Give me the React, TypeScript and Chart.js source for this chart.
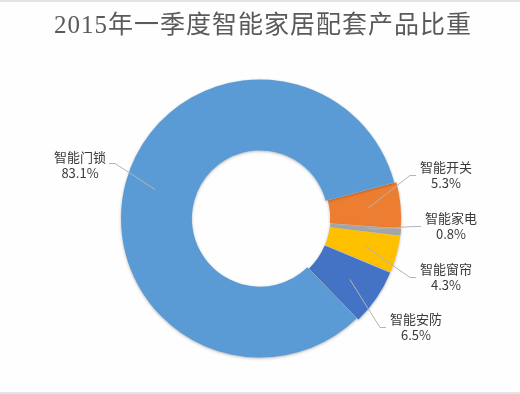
import React, { useEffect, useRef } from "react";
import { Chart, registerables } from "chart.js";

Chart.register(...registerables);

const TITLE = "2015年一季度智能家居配套产品比重";
const CATEGORIES = ["智能开关", "智能家电", "智能窗帘", "智能安防", "智能门锁"];
const VALUES = [5.3, 0.8, 4.3, 6.5, 83.1];
const PERCENT_LABELS = ["5.3%", "0.8%", "4.3%", "6.5%", "83.1%"];
const COLORS = ["#ED7D31", "#A5A5A5", "#FFC000", "#4472C4", "#5B9BD5"];
const SLICE_OFFSETS = [5, 5, 5, 5, 0];
// label block centres relative to the doughnut centre (layout only)
const LABEL_POS: [number, number][] = [
  [186, -43],
  [191, 8],
  [186, 59],
  [156, 109],
  [-180, -53],
];

const LABEL_FONT = '13px "Noto Sans CJK SC", "Noto Sans", sans-serif';

const backgroundPlugin = {
  id: "bgPlugin",
  beforeDraw(chart: any) {
    const { ctx, width, height } = chart;
    ctx.save();
    ctx.fillStyle = "#fefefe";
    ctx.fillRect(0, 0, width, height);
    ctx.fillStyle = "#dfe5e8";
    ctx.fillRect(0, 0, width, 2);
    ctx.fillRect(0, height - 2, width, 2);
    // title
    ctx.fillStyle = "#5a5a5a";
    ctx.font = '25px "Liberation Serif", "Noto Sans CJK SC", serif';
    try {
      (ctx as any).letterSpacing = "1px";
    } catch (e) {}
    ctx.textAlign = "center";
    ctx.textBaseline = "middle";
    ctx.fillText(TITLE, 263, 26);
    try {
      (ctx as any).letterSpacing = "0px";
    } catch (e) {}
    ctx.restore();
  },
};

const shadowPlugin = {
  id: "shadowPlugin",
  beforeDatasetDraw(chart: any) {
    const ctx = chart.ctx;
    ctx.save();
    ctx.shadowColor = "rgba(0,0,0,0.28)";
    ctx.shadowBlur = 3;
    ctx.shadowOffsetX = 0;
    ctx.shadowOffsetY = 1;
  },
  afterDatasetDraw(chart: any) {
    chart.ctx.restore();
  },
};

const labelPlugin = {
  id: "labelPlugin",
  afterDatasetsDraw(chart: any) {
    const ctx = chart.ctx;
    const meta = chart.getDatasetMeta(0);
    ctx.save();
    ctx.font = LABEL_FONT;
    meta.data.forEach((arc: any, i: number) => {
      const { x, y, startAngle, endAngle, innerRadius, outerRadius } = arc.getProps(
        ["x", "y", "startAngle", "endAngle", "innerRadius", "outerRadius"],
        true
      );
      const mid = (startAngle + endAngle) / 2;
      const r = (innerRadius + outerRadius) / 2 + 5;
      const ax = x + Math.cos(mid) * r;
      const ay = y + Math.sin(mid) * r;
      const [dx, dy] = LABEL_POS[i];
      const lx = x + dx;
      const ly = y + dy;
      const w = Math.max(
        ctx.measureText(CATEGORIES[i]).width,
        ctx.measureText(PERCENT_LABELS[i]).width
      );
      const right = dx > 0;
      const ex = right ? lx - w / 2 - 4 : lx + w / 2 + 3;
      const ey = right ? ly : ly - 2;
      const kx = right ? ex - 6 : ex + 6;
      ctx.strokeStyle = "#b4b4b4";
      ctx.lineWidth = 1;
      ctx.beginPath();
      ctx.moveTo(ax, ay);
      ctx.lineTo(kx, ey);
      ctx.lineTo(ex, ey);
      ctx.stroke();

      ctx.fillStyle = "#3a3a3a";
      ctx.textAlign = "center";
      ctx.textBaseline = "middle";
      ctx.fillText(CATEGORIES[i], lx, ly - 8);
      ctx.fillText(PERCENT_LABELS[i], lx, ly + 8);
    });
    ctx.restore();
  },
};

export default function App() {
  const canvasRef = useRef<HTMLCanvasElement | null>(null);

  useEffect(() => {
    document.body.style.margin = "0";
    const canvas = canvasRef.current;
    if (!canvas) return;
    const chart = new Chart(canvas, {
      type: "doughnut",
      data: {
        labels: CATEGORIES,
        datasets: [
          {
            data: VALUES,
            backgroundColor: COLORS,
            borderWidth: 0,
            offset: SLICE_OFFSETS,
          },
        ],
      },
      options: {
        responsive: false,
        animation: false,
        rotation: 75,
        cutout: "49%",
        radius: 139,
        layout: { padding: { top: 79, bottom: 36, left: 0, right: 0 } },
        plugins: {
          legend: { display: false },
          title: { display: false },
          tooltip: { enabled: false },
        },
        events: [],
      } as any,
      plugins: [backgroundPlugin, shadowPlugin, labelPlugin],
    });
    return () => chart.destroy();
  }, []);

  return (
    <div style={{ width: 520, height: 394 }}>
      <canvas ref={canvasRef} width={520} height={394} style={{ display: "block" }} />
    </div>
  );
}
